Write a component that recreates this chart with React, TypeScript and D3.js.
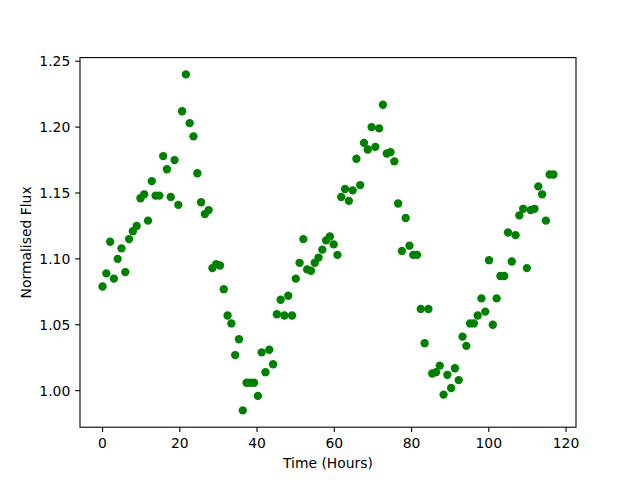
import React from "react";
import * as d3 from "d3";

const timeHours: number[] = [
  0, 0.98, 1.96, 2.94, 3.92, 4.91, 5.89, 6.87, 7.85, 8.83,
  9.81, 10.79, 11.77, 12.75, 13.73, 14.72, 15.7, 16.68, 17.66, 18.64,
  19.62, 20.6, 21.58, 22.56, 23.54, 24.53, 25.51, 26.49, 27.47, 28.45,
  29.43, 30.41, 31.39, 32.37, 33.35, 34.34, 35.32, 36.3, 37.28, 38.26,
  39.24, 40.22, 41.2, 42.18, 43.16, 44.15, 45.13, 46.11, 47.09, 48.07,
  49.05, 50.03, 51.01, 51.99, 52.97, 53.96, 54.94, 55.92, 56.9, 57.88,
  58.86, 59.84, 60.82, 61.8, 62.78, 63.77, 64.75, 65.73, 66.71, 67.69,
  68.67, 69.65, 70.63, 71.61, 72.59, 73.58, 74.56, 75.54, 76.52, 77.5,
  78.48, 79.46, 80.44, 81.42, 82.4, 83.39, 84.37, 85.35, 86.33, 87.31,
  88.29, 89.27, 90.25, 91.23, 92.21, 93.2, 94.18, 95.16, 96.14, 97.12,
  98.1, 99.08, 100.06, 101.04, 102.02, 103.01, 103.99, 104.97, 105.95, 106.93,
  107.91, 108.89, 109.87, 110.85, 111.83, 112.82, 113.8, 114.78, 115.76, 116.74,
];

const flux: number[] = [
  1.079, 1.089, 1.113, 1.085, 1.1, 1.108, 1.09, 1.115, 1.121, 1.125,
  1.146, 1.149, 1.129, 1.159, 1.148, 1.148, 1.178, 1.168, 1.147, 1.175,
  1.141, 1.212, 1.24, 1.203, 1.193, 1.165, 1.143, 1.134, 1.137, 1.093,
  1.096, 1.095, 1.077, 1.057, 1.051, 1.027, 1.039, 0.985, 1.006, 1.006,
  1.006, 0.996, 1.029, 1.014, 1.031, 1.02, 1.058, 1.069, 1.057, 1.072,
  1.057, 1.085, 1.097, 1.115, 1.092, 1.091, 1.097, 1.101, 1.107, 1.114,
  1.117, 1.111, 1.103, 1.147, 1.153, 1.144, 1.152, 1.176, 1.156, 1.188,
  1.183, 1.2, 1.185, 1.199, 1.217, 1.18, 1.181, 1.174, 1.142, 1.106,
  1.131, 1.11, 1.103, 1.103, 1.062, 1.036, 1.062, 1.013, 1.014, 1.019,
  0.997, 1.012, 1.002, 1.017, 1.008, 1.041, 1.034, 1.051, 1.051, 1.057,
  1.07, 1.06, 1.099, 1.05, 1.07, 1.087, 1.087, 1.12, 1.098, 1.118,
  1.133, 1.138, 1.093, 1.137, 1.138, 1.155, 1.149, 1.129, 1.164, 1.164,
];

const xTicks: number[] = [0, 20, 40, 60, 80, 100, 120];
const yTicks: number[] = [1.0, 1.05, 1.1, 1.15, 1.2, 1.25];

const W = 640;
const H = 480;
const left = 80;
const right = 576;
const top = 57.6;
const bottom = 427.2;
const FONT = "DejaVu Sans, sans-serif";
const FS = 13.9;
const TICK = 4.86;

function pad(ext: [number, number]): [number, number] {
  const m = (ext[1] - ext[0]) * 0.05;
  return [ext[0] - m, ext[1] + m];
}

export default function App() {
  const x = d3.scaleLinear().domain(pad(d3.extent(timeHours) as [number, number])).range([left, right]);
  const y = d3.scaleLinear().domain(pad(d3.extent(flux) as [number, number])).range([bottom, top]);
  const pts = timeHours.map((t, i) => [t, flux[i]]);
  return (
    <svg width={W} height={H} style={{ position: "absolute", left: 0, top: 0, background: "#fff" }} fontFamily={FONT}>
      <rect x={0} y={0} width={W} height={H} fill="#fff" />
      {pts.map((p, i) => (
        <circle key={i} cx={x(p[0])} cy={y(p[1])} r={4.17} fill="#008000" />
      ))}
      <rect x={left} y={top} width={right - left} height={bottom - top} fill="none" stroke="#000" strokeWidth={1.1} />
      {xTicks.map((t) => (
        <g key={"x" + t}>
          <line x1={x(t)} x2={x(t)} y1={bottom} y2={bottom + TICK} stroke="#000" strokeWidth={1.1} />
          <text x={x(t)} y={bottom + TICK + 4.86 + 10.6} textAnchor="middle" fontSize={FS} fill="#000">
            {t}
          </text>
        </g>
      ))}
      {yTicks.map((t) => (
        <g key={"y" + t}>
          <line x1={left - TICK} x2={left} y1={y(t)} y2={y(t)} stroke="#000" strokeWidth={1.1} />
          <text x={left - TICK - 4.86} y={y(t) + 5} textAnchor="end" fontSize={FS} fill="#000">
            {d3.format(".2f")(t)}
          </text>
        </g>
      ))}
      <text x={(left + right) / 2} y={468} textAnchor="middle" fontSize={FS} fill="#000">
        Time (Hours)
      </text>
      <text
        transform={`translate(31,${(top + bottom) / 2}) rotate(-90)`}
        textAnchor="middle"
        fontSize={FS}
        fill="#000"
      >
        Normalised Flux
      </text>
    </svg>
  );
}
